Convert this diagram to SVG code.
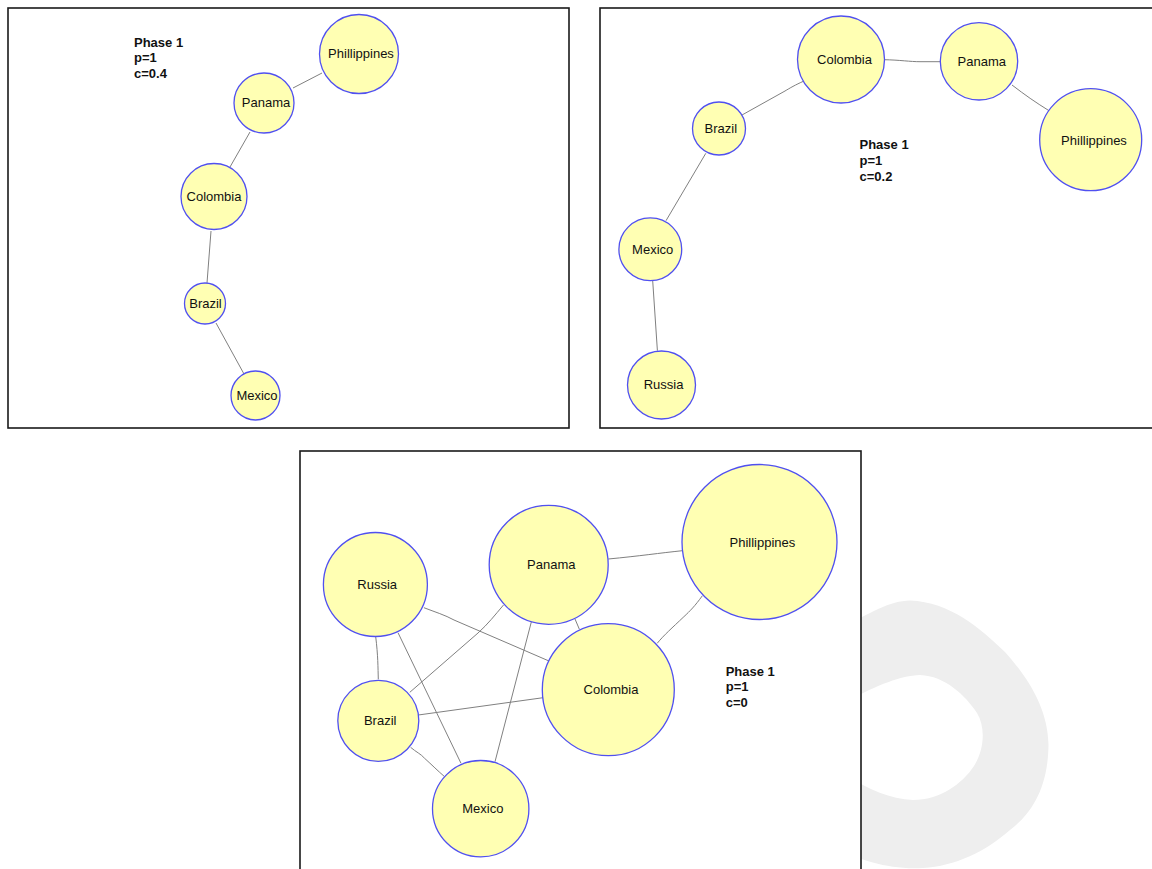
<svg xmlns="http://www.w3.org/2000/svg" width="1152" height="869" viewBox="0 0 1152 869">
<style>
.panel{fill:#ffffff;stroke:#1a1a1a;stroke-width:1.6}
.node circle{fill:#ffffb3;stroke:#5050f0;stroke-width:1.3}
.node text{font-family:"Liberation Sans",Arial,sans-serif;font-size:13px;fill:#111;text-anchor:middle;dominant-baseline:central}
.edges path{fill:none;stroke:#808080;stroke-width:1}
.phase{font-family:"Liberation Sans",Arial,sans-serif;font-size:13px;font-weight:bold;fill:#111}
.wm{fill:#eeeeee;fill-rule:evenodd}
</style>
<rect x="0" y="0" width="1152" height="869" fill="#ffffff"/>
<path class="wm" d="M 840,630 C 870,612 890,601 910,600.5 C 950,602 980,628 1005,652 C 1030,680 1048,710 1048.5,745 C 1048,790 1030,815 1010,830 C 985,852 955,866 923,868 C 890,870 860,860 840,850 Z M 845,702 C 880,684 900,676 920,675 C 945,676 965,695 977,713 C 986,728 984,750 974,766 C 962,784 940,800 913,800 C 890,799 870,790 845,775 Z"/>

<!-- Panel 1 -->
<g id="panel1">
<rect class="panel" x="8" y="8" width="561" height="420"/>
<g class="edges" id="edges1">
<path d="M322,73 L293,88"/>
<path d="M250,132 L230,167"/>
<path d="M211,231 L207,283"/>
<path d="M216,323 L244,374"/>
</g>
<g class="node" id="p1-phillippines"><circle cx="359" cy="54" r="39.5"/><text x="361" y="53.5">Phillippines</text></g>
<g class="node" id="p1-panama"><circle cx="264" cy="103" r="30"/><text x="266" y="102.5">Panama</text></g>
<g class="node" id="p1-colombia"><circle cx="214" cy="196.5" r="33"/><text x="214" y="196.5">Colombia</text></g>
<g class="node" id="p1-brazil"><circle cx="205" cy="303.5" r="20.5"/><text x="205.5" y="303">Brazil</text></g>
<g class="node" id="p1-mexico"><circle cx="255.5" cy="395.5" r="24.5"/><text x="257" y="395.5">Mexico</text></g>
<text class="phase" x="134" y="46.5">Phase 1</text>
<text class="phase" x="134" y="62">p=1</text>
<text class="phase" x="134" y="77.5">c=0.4</text>
</g>

<!-- Panel 2 -->
<g id="panel2">
<rect class="panel" x="600" y="8" width="561" height="420"/>
<g class="edges" id="edges2">
<path d="M884,59.7 C900,60 910,61.7 920,61.7 L940.5,61.7"/>
<path d="M804,81 C795,85 790,88 785,91 L742,115"/>
<path d="M1012,85 C1025,95 1035,102 1049,110.7"/>
<path d="M705.8,153.3 L666,220.7"/>
<path d="M652.7,280.7 L657.4,350.7"/>
</g>
<g class="node" id="p2-colombia"><circle cx="841" cy="59.5" r="43.5"/><text x="844.5" y="59.5">Colombia</text></g>
<g class="node" id="p2-panama"><circle cx="979" cy="61.3" r="38.7"/><text x="981.8" y="61.5">Panama</text></g>
<g class="node" id="p2-phillippines"><circle cx="1090.7" cy="139.7" r="51"/><text x="1094" y="140">Phillippines</text></g>
<g class="node" id="p2-brazil"><circle cx="719" cy="128.5" r="26.5"/><text x="720.8" y="128.3">Brazil</text></g>
<g class="node" id="p2-mexico"><circle cx="650.3" cy="249.3" r="31.4"/><text x="652.7" y="249.3">Mexico</text></g>
<g class="node" id="p2-russia"><circle cx="661.5" cy="385" r="34"/><text x="663.5" y="384.3">Russia</text></g>
<text class="phase" x="859.5" y="149">Phase 1</text>
<text class="phase" x="859.5" y="164.8">p=1</text>
<text class="phase" x="859.5" y="180.5">c=0.2</text>
</g>

<!-- Panel 3 -->
<g id="panel3">
<rect class="panel" x="300" y="451" width="561" height="430"/>
<g class="edges" id="edges3">
<path d="M608.3,559 C640,556 660,553 682.4,550.7"/>
<path d="M702.4,595.7 C695,606 690,611 683.9,616.7 C672,628 664,635 657.2,643.3"/>
<path d="M575,619 L579.4,629.3"/>
<path d="M423.9,607.7 C435,612 445,615 454,620 L549,661"/>
<path d="M375.7,636.7 C378,655 378,668 378.3,679.3"/>
<path d="M398,632.7 L461,763.3"/>
<path d="M503.5,605 C495,615 488,624 478,633 L409.8,692.3"/>
<path d="M531.3,622 L495,761.7"/>
<path d="M418.3,715 L543.1,697.7"/>
<path d="M410.6,747.3 C416,752 421,754 424.6,758.3 C432,765 438,771 444.6,776.7"/>
</g>
<g class="node" id="p3-russia"><circle cx="375.4" cy="584.5" r="52"/><text x="377.2" y="584.3">Russia</text></g>
<g class="node" id="p3-panama"><circle cx="548.7" cy="564.8" r="59.5"/><text x="551.3" y="564.3">Panama</text></g>
<g class="node" id="p3-phillippines"><circle cx="759.5" cy="542" r="77.5"/><text x="762.4" y="542.3">Phillippines</text></g>
<g class="node" id="p3-colombia"><circle cx="608.3" cy="689.7" r="66"/><text x="611" y="689.3">Colombia</text></g>
<g class="node" id="p3-brazil"><circle cx="378.3" cy="720.8" r="40.5"/><text x="380.2" y="720.7">Brazil</text></g>
<g class="node" id="p3-mexico"><circle cx="480.7" cy="808.7" r="48.2"/><text x="482.8" y="808.7">Mexico</text></g>
<text class="phase" x="725.7" y="675.5">Phase 1</text>
<text class="phase" x="725.7" y="691.2">p=1</text>
<text class="phase" x="725.7" y="706.8">c=0</text>
</g>
</svg>
